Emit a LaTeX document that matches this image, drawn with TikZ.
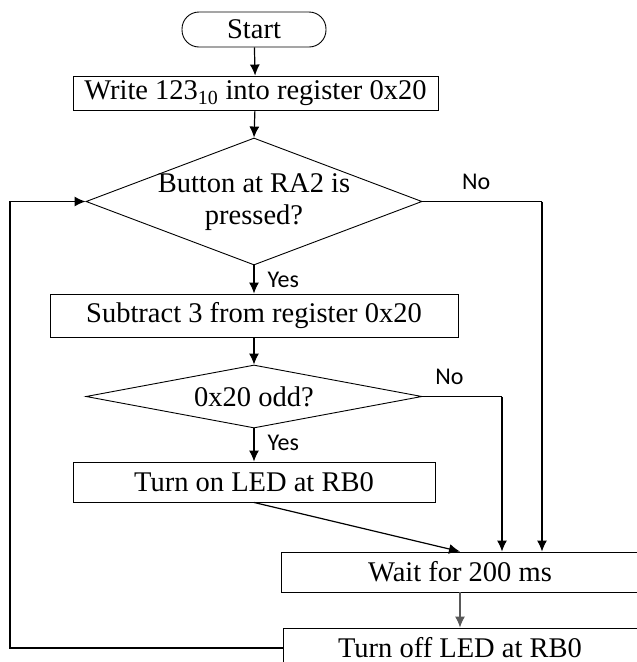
\documentclass[tikz,border=0pt]{standalone}
\usepackage{fontspec}
\setmainfont{Liberation Serif}
\newfontfamily\labelfont{Carlito}
\usetikzlibrary{shapes.geometric,arrows.meta}

\begin{document}
\begin{tikzpicture}[x=1pt,y=-1pt,
        box/.style={draw, line width=0.9pt, inner sep=0pt, font=\fontsize{28.5}{32}\selectfont},
        decision/.style={draw, diamond, line width=0.9pt, inner sep=0pt},
        arrow/.style={-{Latex[length=11pt,width=10pt]}, line width=1.2pt},
        yesno/.style={font=\labelfont\fontsize{24}{28}\selectfont, inner sep=0pt}]
        \useasboundingbox (0,0) rectangle (637,662);
        \clip (0,0) rectangle (637,662);

        % Inicio
        \node[box, rounded corners=17pt, minimum width=144pt, minimum height=35pt] (start) at (254,29.5) {Start};
        \node[box, minimum width=365pt, minimum height=34pt] (write) at (255.5,93) {Write 123\textsubscript{10} into register 0x20};

        % Pregunta del boton
        \node[decision, minimum width=336pt, minimum height=127pt] (btn) at (254,201.5) {};
        \node[align=center, font=\fontsize{28.5}{32}\selectfont] (btntext) at (254,202) {Button at RA2 is\\pressed?};
        \node[box, minimum width=408pt, minimum height=43pt] (sub) at (254,315.5) {Subtract 3 from register 0x20};

        % Pregunta impar
        \node[decision, minimum width=336pt, minimum height=63pt] (odd) at (254,396.5) {};
        \node[font=\fontsize{28.5}{32}\selectfont] (oddtext) at (254,397) {0x20 odd?};
        \node[box, minimum width=362pt, minimum height=40pt] (led) at (254,482) {Turn on LED at RB0};

        % Espera y apagado
        \node[box, minimum width=358pt, minimum height=40pt] (wait) at (460,572) {Wait for 200 ms};
        \node[box, minimum width=354pt, minimum height=40pt] (off) at (460,648) {Turn off LED at RB0};

        % Puntos de giro
        \coordinate (btnturn) at (542,201.5);
        \coordinate (oddturn) at (502,396.5);
        \coordinate (loop) at (10,201.5);

        % Flechas
        \draw[arrow] (start) -- (write);
        \draw[arrow] (write) -- (btn.north);
        \draw[arrow] (btn.south) -- node[yesno, right=13pt, pos=0.5] {Yes} (sub);
        \draw[arrow] (sub) -- (odd.north);
        \draw[arrow] (odd.south) -- node[yesno, right=13pt, pos=0.45] {Yes} (led);
        \draw[arrow] (led.south) -- (wait.north);
        \draw[line width=1.2pt] (btn.east) -- node[yesno, above=11pt, pos=0.45] {No} (btnturn);
        \draw[arrow] (btnturn) -- (btnturn |- wait.north);
        \draw[line width=1.2pt] (odd.east) -- node[yesno, above=11pt, pos=0.34] {No} (oddturn);
        \draw[arrow] (oddturn) -- (oddturn |- wait.north);
        \draw[arrow, black!65] (wait) -- (off);
        \draw[arrow] (off.west) -| (loop) -- (btn.west);
\end{tikzpicture}
\end{document}
